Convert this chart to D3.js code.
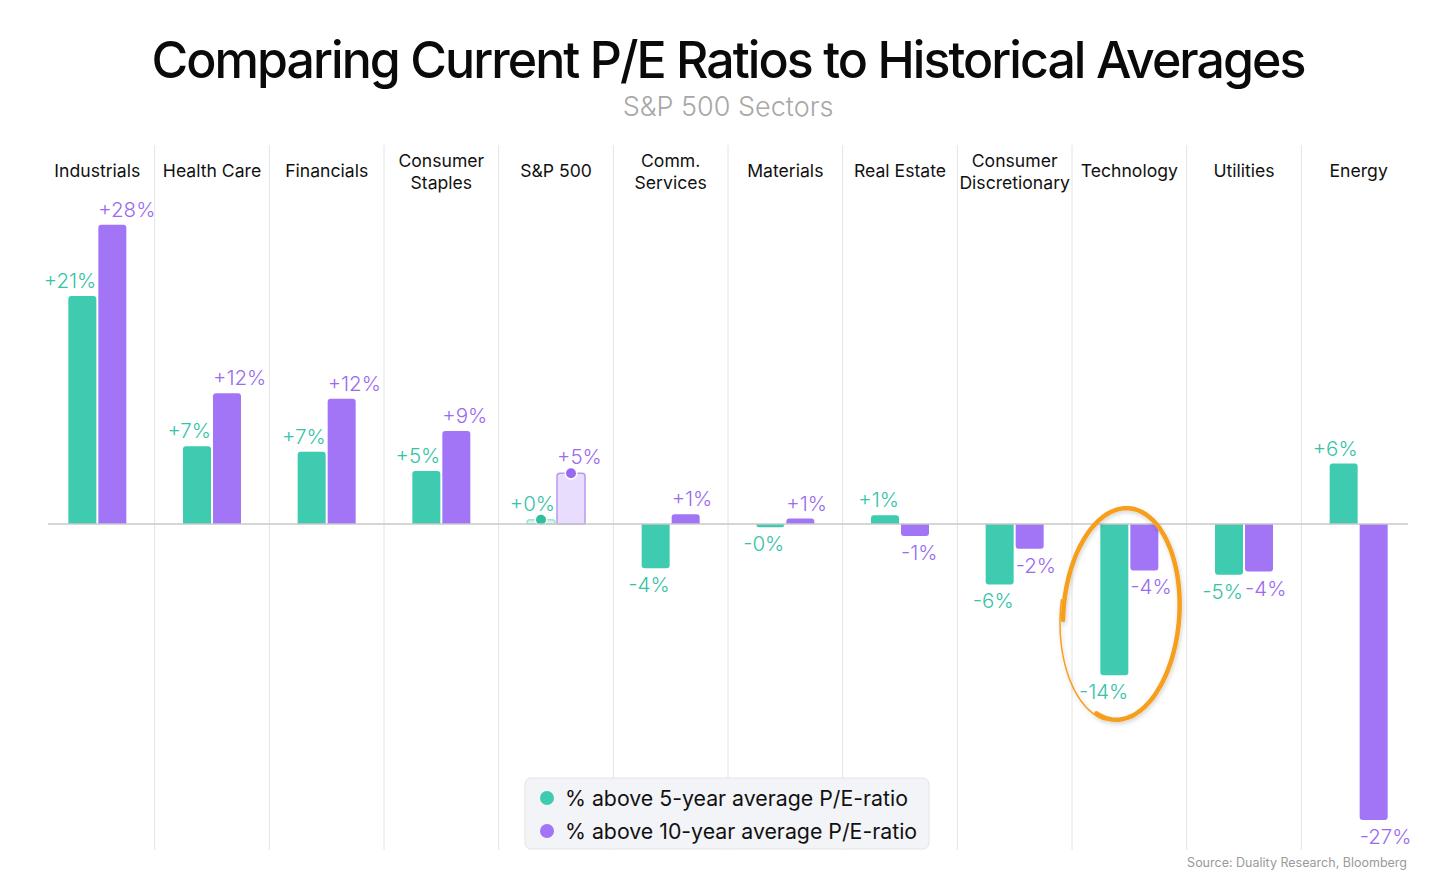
<!DOCTYPE html>
<html>
<head>
<meta charset="utf-8">
<script src="https://cdn.jsdelivr.net/npm/d3@7"></script>
<style>
  html, body { margin: 0; padding: 0; background: #fff; }
  svg { display: block; font-family: Inter, "Noto Sans", sans-serif; }
</style>
</head>
<body>
<svg id="chart" width="1456" height="874"></svg>
<script>
// ---- data ----
const sectors = ["Industrials", "Health Care", "Financials", "Consumer\nStaples", "S&P 500",
  "Comm.\nServices", "Materials", "Real Estate", "Consumer\nDiscretionary", "Technology", "Utilities", "Energy"];
const fiveYear = [21.1, 7.2, 6.7, 4.9, 0.4, -4.1, -0.3, 0.8, -5.6, -14.0, -4.7, 5.6];
const tenYear  = [27.7, 12.1, 11.6, 8.6, 4.7, 0.9, 0.5, -1.1, -2.3, -4.3, -4.4, -27.4];
const seriesNames = ["% above 5-year average P/E-ratio", "% above 10-year average P/E-ratio"];
const highlightSector = "S&P 500";
const circledSector = "Technology";

// ---- styles ----
const W = 1456, H = 874;
const colors = ["#3ecbb0", "#a274f6"];
const labelColors = ["#35c3a6", "#9b6bee"];
const lightColors = ["#d8f5ee", "#e8ddfc"];

const svg = d3.select("#chart");

// title
svg.append("text").attr("x", W / 2).attr("y", 78).attr("text-anchor", "middle")
  .attr("font-size", 51).attr("font-weight", 500).attr("letter-spacing", -2)
  .attr("fill", "#0a0a0a").attr("textLength", 1153).attr("lengthAdjust", "spacingAndGlyphs")
  .text("Comparing Current P/E Ratios to Historical Averages");
svg.append("text").attr("x", W / 2).attr("y", 116).attr("text-anchor", "middle")
  .attr("font-size", 27).attr("font-weight", 300).attr("fill", "#a8a8a8")
  .text("S&P 500 Sectors");

// scales
const x = d3.scaleBand().domain(sectors).range([40, 1416]);
const sub = d3.scaleBand().domain([0, 1]).range([-29, 29]).paddingInner(2 / 30);
const y = d3.scaleLinear().domain([-30, 30]).range([524 + 324, 524 - 324]);

// vertical grid lines (column separators)
svg.append("g").selectAll("line").data(sectors.slice(1)).join("line")
  .attr("x1", d => x(d)).attr("x2", d => x(d))
  .attr("y1", 145).attr("y2", 850)
  .attr("stroke", "#e4e4e4").attr("stroke-width", 1);

// category labels
const cat = svg.append("g").selectAll("text").data(sectors).join("text")
  .attr("text-anchor", "middle").attr("font-size", 17.6).attr("fill", "#111");
cat.each(function (d) {
  const lines = d.split("\n");
  const t = d3.select(this);
  const cx = x(d) + x.bandwidth() / 2;
  const y0 = lines.length === 1 ? 177 : 167;
  lines.forEach((ln, i) => t.append("tspan").attr("x", cx).attr("y", y0 + i * 22).text(ln));
});

// bar data
const bars = [];
sectors.forEach((s, i) => {
  [fiveYear[i], tenYear[i]].forEach((v, k) => bars.push({ sector: s, k, v }));
});

function barPath(x0, w, v) {
  const y0 = y(0), y1 = y(v);
  const r = Math.min(3, Math.abs(y1 - y0));
  const p = d3.path();
  if (v >= 0) {
    p.moveTo(x0, y0); p.lineTo(x0, y1 + r);
    p.quadraticCurveTo(x0, y1, x0 + r, y1);
    p.lineTo(x0 + w - r, y1);
    p.quadraticCurveTo(x0 + w, y1, x0 + w, y1 + r);
    p.lineTo(x0 + w, y0); p.closePath();
  } else {
    p.moveTo(x0, y0); p.lineTo(x0, y1 - r);
    p.quadraticCurveTo(x0, y1, x0 + r, y1);
    p.lineTo(x0 + w - r, y1);
    p.quadraticCurveTo(x0 + w, y1, x0 + w, y1 - r);
    p.lineTo(x0 + w, y0); p.closePath();
  }
  return p.toString();
}

const gBars = svg.append("g");
bars.forEach(b => {
  const cx = x(b.sector) + x.bandwidth() / 2;
  const bx = cx + sub(b.k);
  const w = sub.bandwidth();
  const hl = b.sector === highlightSector;
  gBars.append("path").attr("d", barPath(bx, w, b.v))
    .attr("fill", hl ? lightColors[b.k] : colors[b.k])
    .attr("stroke", hl ? (b.k === 0 ? "#9fe3d3" : "#b898f4") : "none")
    .attr("stroke-width", hl ? 1.5 : 0);
  if (hl) {
    gBars.append("circle").attr("cx", bx + w / 2).attr("cy", y(b.v))
      .attr("r", 5).attr("fill", b.k === 0 ? "#2fbf9f" : "#9a68ee")
      .attr("stroke", "#fff").attr("stroke-width", 3).attr("paint-order", "stroke");
  }
  const fmt = (b.v < 0 ? "-" : "+") + Math.round(Math.abs(b.v)) + "%";
  const ly = b.v >= 0 ? y(b.v) - (hl ? 9 : 8) : y(b.v) + 24;
  gBars.append("text")
    .attr("x", b.k === 0 ? bx + w : bx)
    .attr("y", ly)
    .attr("text-anchor", b.k === 0 ? "end" : "start")
    .attr("font-size", 20.5).attr("font-weight", 300)
    .attr("fill", labelColors[b.k]).text(fmt);
});

// baseline
svg.append("line").attr("x1", 48).attr("x2", 1408).attr("y1", y(0)).attr("y2", y(0))
  .attr("stroke", "#c9c9c9").attr("stroke-width", 1.5);

// orange hand-drawn circle around Technology
(function () {
  const cx = x(circledSector) + x.bandwidth() / 2 - 8, cy = 614, rx = 58, ry = 106, rot = 4 * Math.PI / 180;
  function ell(t0, t1, drx, dry) {
    const pts = d3.range(0, 121).map(i => {
      const t = t0 + (t1 - t0) * i / 120;
      const ex = (rx + drx) * Math.cos(t), ey = (ry + dry) * Math.sin(t);
      return [cx + ex * Math.cos(rot) - ey * Math.sin(rot), cy + ex * Math.sin(rot) + ey * Math.cos(rot)];
    });
    return d3.line().curve(d3.curveBasis)(pts);
  }
  const defs = svg.append("defs");
  const f = defs.append("filter").attr("id", "sh").attr("x", "-20%").attr("y", "-20%").attr("width", "140%").attr("height", "140%");
  f.append("feDropShadow").attr("dx", 1).attr("dy", 2).attr("stdDeviation", 2).attr("flood-color", "#000").attr("flood-opacity", 0.18);
  const g = svg.append("g").attr("filter", "url(#sh)").attr("fill", "none").attr("stroke", "#f59f1b").attr("stroke-linecap", "round");
  g.append("path").attr("d", ell(Math.PI * 0.97, Math.PI * 2.6, 0, 0)).attr("stroke-width", 4.5);
  g.append("path").attr("d", ell(Math.PI * 2.55, Math.PI * 3.03, 3, 2)).attr("stroke-width", 1.5);
})();

// legend
const lg = svg.append("g").attr("transform", "translate(525,778)");
lg.append("rect").attr("width", 404).attr("height", 71).attr("rx", 6)
  .attr("fill", "#f3f4f7").attr("stroke", "#e2e3e8");
seriesNames.forEach((n, i) => {
  lg.append("circle").attr("cx", 22).attr("cy", 20 + i * 33).attr("r", 7).attr("fill", colors[i]);
  lg.append("text").attr("x", 40).attr("y", 28 + i * 33).attr("font-size", 21.3)
    .attr("fill", "#111").text(n);
});

// source
svg.append("text").attr("x", 1407).attr("y", 867).attr("text-anchor", "end")
  .attr("font-size", 12.5).attr("fill", "#9a9a9a").text("Source: Duality Research, Bloomberg");
</script>
</body>
</html>
